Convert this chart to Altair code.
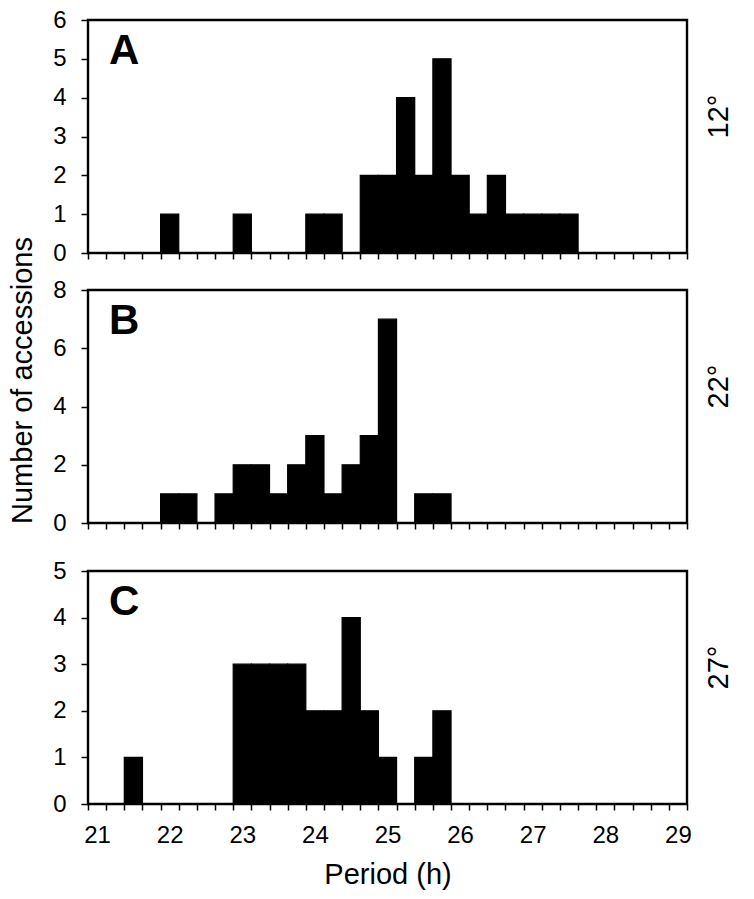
import altair as alt
import pandas as pd

FONT = "Liberation Sans"

# Histogram: bin centres (h, 0.25 h bins) and number of accessions
bin_width = 0.25
a_period = [22.0, 23.0, 24.0, 24.25, 24.75, 25.0, 25.25, 25.5, 25.75, 26.0, 26.25, 26.5, 26.75, 27.0, 27.25, 27.5]
a_count = [1, 1, 1, 1, 2, 2, 4, 2, 5, 2, 1, 2, 1, 1, 1, 1]
b_period = [22.0, 22.25, 22.75, 23.0, 23.25, 23.5, 23.75, 24.0, 24.25, 24.5, 24.75, 25.0, 25.5, 25.75]
b_count = [1, 1, 1, 2, 2, 1, 2, 3, 1, 2, 3, 7, 1, 1]
c_period = [21.5, 23.0, 23.25, 23.5, 23.75, 24.0, 24.25, 24.5, 24.75, 25.0, 25.5, 25.75]
c_count = [1, 3, 3, 3, 3, 2, 2, 4, 2, 1, 1, 2]

panel_letters = ["A", "B", "C"]
temperatures = ["12°", "22°", "27°"]
y_max = [6, 8, 5]
y_step = [1, 2, 1]
x_domain = [20.875, 29.125]
x_ticks = [20.875 + 0.25 * i for i in range(34)]
y_title = "Number of accessions"
x_title = "Period (h)"

W, H = 599, 233
HALF_BIN_PX = W / (x_domain[1] - x_domain[0]) * bin_width / 2


def panel(period, count, letter, temp, ymax, ystep, bottom, ytitle, top_off=0):
    df = pd.DataFrame({"period": period, "count": count})
    total_h = H + top_off
    if bottom:
        x_axis = alt.Axis(
            values=x_ticks,
            labelExpr=("abs(datum.value + 0.125 - round(datum.value + 0.125)) < 0.001"
                       " ? format(datum.value + 0.125, 'd') : ''"),
            labelOverlap=False,
            labelFlush=False,
            labelOffset=HALF_BIN_PX,
            title=x_title,
            titleFontSize=29,
            titleFontWeight="normal",
            titlePadding=13,
            labelPadding=13,
            labelFontSize=24,
            tickSize=6,
            domain=False,
            grid=False,
        )
    else:
        x_axis = alt.Axis(values=x_ticks, labels=False, title=None, tickSize=6,
                          domain=False, grid=False)
    y_axis = alt.Axis(
        values=list(range(0, ymax + 1, ystep)),
        title=None,
        labelFontSize=24,
        labelPadding=15,
        tickSize=7,
        domain=False,
        grid=False,
    )
    bars = (
        alt.Chart(df)
        .transform_calculate(lo=f"datum.period - {bin_width / 2}",
                             hi=f"datum.period + {bin_width / 2}", zero="0")
        .mark_rect(color="black", stroke="black", strokeWidth=1.2)
        .encode(
            x=alt.X("lo:Q", scale=alt.Scale(domain=x_domain, nice=False, zero=False), axis=x_axis),
            x2="hi:Q",
            y=alt.Y("count:Q",
                    scale=alt.Scale(domain=[0, ymax], nice=False, range=[total_h, top_off]),
                    axis=y_axis),
            y2="zero:Q",
        )
    )
    frame = (
        alt.Chart(pd.DataFrame({"t": [letter]}))
        .mark_rect(fillOpacity=0, stroke="black", strokeWidth=2.4)
        .encode(x=alt.value(0), x2=alt.value(W), y=alt.value(top_off), y2=alt.value(total_h))
    )
    lab = (
        alt.Chart(pd.DataFrame({"t": [letter]}))
        .mark_text(font=FONT, fontSize=42, fontWeight="bold", align="left", baseline="top", color="black")
        .encode(text="t:N", x=alt.value(21), y=alt.value(top_off + 11))
    )
    tmp = (
        alt.Chart(pd.DataFrame({"t": [temp]}))
        .mark_text(font=FONT, fontSize=29, angle=270, align="center", baseline="middle", color="black")
        .encode(text="t:N", x=alt.value(W + 32), y=alt.value(top_off + H / 2 - 20))
    )
    layers = [bars, frame, lab, tmp]
    if ytitle:
        yt = (
            alt.Chart(pd.DataFrame({"t": [ytitle]}))
            .mark_text(font=FONT, fontSize=29, angle=270, align="center", baseline="middle", color="black")
            .encode(text="t:N", x=alt.value(-65), y=alt.value(H / 2 - 26))
        )
        layers.append(yt)
    return alt.layer(*layers).properties(width=W, height=total_h)


pA = panel(a_period, a_count, panel_letters[0], temperatures[0], y_max[0], y_step[0], False, None)
pB = panel(b_period, b_count, panel_letters[1], temperatures[1], y_max[1], y_step[1], False, y_title)
pC = panel(c_period, c_count, panel_letters[2], temperatures[2], y_max[2], y_step[2], True, None, top_off=11)

chart = (
    alt.vconcat(pA, pB, pC, spacing=37, bounds="flush")
    .properties(padding={"left": 0, "top": 0, "right": 2, "bottom": 2})
    .configure_view(strokeWidth=0)
    .configure_axis(
        labelFont=FONT, titleFont=FONT, labelColor="black", titleColor="black",
        tickColor="black", tickWidth=1.5,
    )
)

chart.save("out.html", embed_options={"renderer": "svg", "actions": False})
